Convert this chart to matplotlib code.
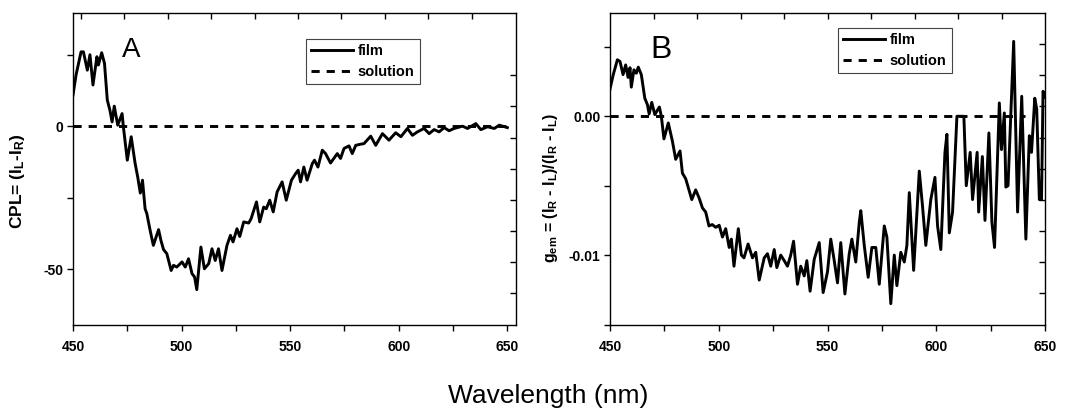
import numpy as np
import matplotlib
matplotlib.use('Agg')
import matplotlib.pyplot as plt

plt.rcParams['font.family'] = ['Liberation Sans', 'DejaVu Sans']
plt.rcParams['mathtext.default'] = 'regular'
plt.rcParams['axes.unicode_minus'] = False

# ---------------- data ----------------
wl_a = [450, 451.4, 453.7, 454.8, 456.6, 457.8, 459.2, 461, 461.7, 462.5, 463.2, 464.5, 465.8, 467,
        468, 469, 470.6, 472.6, 473.2, 475, 476.8, 478.6, 479.8, 481, 482, 483.2, 484, 485.5, 487,
        489.4, 490.5, 491.7, 493.2, 495.2, 496.3, 497.8, 500.2, 501.7, 503.2, 504.8, 506, 507,
        508.9, 510.5, 512.5, 514, 515.5, 517, 518.6, 520.9, 522.5, 523.7, 525.5, 526.8, 528.6,
        530.9, 532, 534.5, 536, 537.8, 539, 540.6, 542.2, 544, 546.3, 548.2, 550.6, 552.5, 553.7,
        554.8, 556.3, 557.8, 560.2, 561.2, 562.8, 564.8, 566.3, 568.6, 571.7, 573.2, 574.8, 577.1,
        578.6, 580.2, 582.5, 584, 587.1, 589.4, 592.5, 595.5, 598.6, 601, 604, 606.3, 608.6, 611.7,
        614, 616.3, 618.6, 620.9, 623.2, 625.5, 629.4, 631.7, 635.5, 637.8, 640.9, 644, 646.3, 650]
cpl_film = [10.9, 17.9, 26, 26, 19.6, 25, 14.4, 24.3, 21.4, 23.7, 25.7, 22, 9.1, 5.6, 1.5, 7, 0.35,
            4.4, -0.2, -11.9, -3.7, -13, -17.8, -23.4, -18.9, -28.9, -30.6, -36.4, -41.7, -36.2,
            -40, -43.2, -44.6, -50.5, -48.7, -49.3, -47.5, -49.3, -46.4, -51.6, -52.8, -57.2,
            -42.3, -49.9, -48.1, -42.9, -47, -42.9, -50.5, -41.7, -38.2, -40.5, -35.9, -38.6,
            -33.5, -33.9, -32.4, -26.5, -33.5, -28.3, -28.9, -25.9, -30, -23, -19.5, -25.9, -18.9,
            -16.6, -15.4, -19.5, -14.3, -18.9, -13.1, -11.9, -14.3, -8.4, -9.6, -12.9, -9.6, -11.3,
            -7.8, -6.9, -9.6, -6.7, -6.3, -6.1, -3.5, -6.7, -2.6, -4.9, -2.3, -3.7, -0.8, -3.2, -2,
            -0.8, -2.6, -1.2, -2, -0.5, -1.6, -0.8, 0, -0.8, 0.9, -1.2, -0.2, -0.8, 0.35, -0.5]

wl_b = [450, 451.5, 453.4, 454.6, 456, 457.2, 458.3, 459.2, 459.8, 461, 462.1, 463, 464.4, 466,
        467.2, 468, 469.2, 470.6, 472.7, 473.6, 474.8, 476.8, 478.7, 480.2, 482.2, 483.3, 484.8,
        486.3, 487.6, 489.4, 491, 492.5, 494, 495.5, 497, 498.6, 500.2, 501.7, 503.2, 504.8,
        505.8, 507, 509, 510.4, 511.6, 513.5, 515.5, 517, 518.6, 520.9, 522.4, 523.9, 525.5,
        526.7, 528.5, 530.1, 531.6, 533.1, 534.4, 536.2, 537.7, 539.3, 540.5, 542, 543.9, 546.2,
        548, 550, 551.5, 553, 554.6, 556.1, 558, 560, 561.2, 563, 564.6, 565.3, 566.9, 568.7,
        570.4, 572.2, 573.8, 576.1, 577.3, 579.1, 580.7, 581.9, 583.7, 585.3, 586.5, 587.6,
        589.6, 592.2, 593.7, 595.2, 597.5, 599.4, 600.6, 602.1, 604, 604.9, 606, 607.5, 609.5,
        612.7, 613.8, 615.6, 616.7, 618.8, 619.5, 621.2, 622.4, 624.2, 625.6, 626.8, 629, 630,
        631.3, 632, 633, 635.6, 637.4, 639.3, 641.2, 642.8, 643.8, 645.3, 646.2, 647.4, 648.4,
        649.1, 650]
gem_film = [1.96e-3, 3.0e-3, 4.07e-3, 3.95e-3, 3.0e-3, 3.7e-3, 2.8e-3, 3.5e-3, 2.1e-3, 3.35e-3,
            3.1e-3, 3.54e-3, 3.0e-3, 1.3e-3, 0.84e-3, 0.17e-3, 1.0e-3, 0.12e-3, 0.67e-3, 0.0,
            -1.63e-3, -0.48e-3, -1.8e-3, -3.1e-3, -2.5e-3, -4.1e-3, -4.5e-3, -5.3e-3, -6.0e-3,
            -5.3e-3, -5.9e-3, -6.6e-3, -6.9e-3, -7.9e-3, -7.8e-3, -8.0e-3, -7.85e-3, -8.7e-3,
            -8.1e-3, -9.45e-3, -8.85e-3, -10.8e-3, -8.1e-3, -10.0e-3, -10.2e-3, -9.2e-3, -10.2e-3,
            -9.8e-3, -11.8e-3, -10.2e-3, -9.9e-3, -10.8e-3, -9.6e-3, -10.9e-3, -10.0e-3, -10.4e-3,
            -10.8e-3, -10.0e-3, -9.0e-3, -12.1e-3, -10.8e-3, -11.5e-3, -10.4e-3, -12.6e-3,
            -10.3e-3, -9.1e-3, -12.7e-3, -11.2e-3, -8.85e-3, -10.3e-3, -12.0e-3, -9.1e-3,
            -12.8e-3, -9.9e-3, -8.85e-3, -10.5e-3, -7.65e-3, -6.8e-3, -9.3e-3, -11.6e-3,
            -9.45e-3, -9.45e-3, -12.1e-3, -7.9e-3, -8.7e-3, -13.5e-3, -10.0e-3, -12.2e-3,
            -9.8e-3, -10.5e-3, -9.3e-3, -5.5e-3, -11.1e-3, -3.95e-3, -6.5e-3, -9.3e-3, -6.0e-3,
            -4.4e-3, -7.9e-3, -9.6e-3, -2.6e-3, -1.3e-3, -8.4e-3, -6.9e-3, 0.0, 0.0, -5.0e-3,
            -2.6e-3, -6.0e-3, -2.6e-3, -6.9e-3, -2.9e-3, -7.5e-3, -1.2e-3, -7.65e-3, -9.45e-3,
            0.96e-3, -2.4e-3, 0.24e-3, -5.1e-3, -5.0e-3, 5.4e-3, -6.9e-3, 1.44e-3, -8.85e-3,
            -1.4e-3, -2.6e-3, 1.3e-3, 0.5e-3, -6.0e-3, -6.0e-3, 1.8e-3, 1.4e-3]

sol_wl_a = [450, 650]
sol_cpl = [0, 0]
sol_wl_b = [450, 641]
sol_gem = [0, 0]

x_ticks = [450, 475, 500, 525, 550, 575, 600, 625, 650]
x_ticklabels = ['450', '', '500', '', '550', '', '600', '', '650']
ya_ticks = [-50, -25, 0, 25]
ya_ticklabels = ['-50', '', '0', '']
yb_ticks = [-0.015, -0.01, -0.005, 0.0, 0.005]
yb_ticklabels = ['', '-0.01', '', '0.00', '']

# ---------------- figure ----------------
W, H = 1074, 408
fig = plt.figure(figsize=(W / 100, H / 100), dpi=100)


def px_axes(l, r, t, b):
    return fig.add_axes([l / W, 1 - b / H, (r - l) / W, (b - t) / H])


axA = px_axes(73, 516, 13, 324.5)
axB = px_axes(610, 1045, 13, 324.5)

lw_line = 2.1
dash = (0, (2.8, 2.4))

axA.plot(wl_a, cpl_film, color='black', lw=lw_line, label='film', solid_joinstyle='round')
axA.plot(sol_wl_a, sol_cpl, color='black', lw=lw_line, ls=dash, label='solution')
axB.plot(wl_b, gem_film, color='black', lw=lw_line, label='film', solid_joinstyle='round')
axB.plot(sol_wl_b, sol_gem, color='black', lw=lw_line, ls=dash, label='solution')


def style(ax, xlim, ylim, yt, ytl):
    ax.set_xlim(*xlim)
    ax.set_ylim(*ylim)
    ax.set_xticks(x_ticks)
    ax.set_xticklabels(x_ticklabels)
    ax.set_yticks(yt)
    ax.set_yticklabels(ytl)
    ax.tick_params(axis='x', direction='out', length=4, width=1, labelsize=10, pad=7)
    ax.tick_params(axis='y', direction='out', length=4, width=1, labelsize=10, pad=3)
    for lab in ax.get_xticklabels() + ax.get_yticklabels():
        lab.set_fontweight('bold')
    for sp in ax.spines.values():
        sp.set_linewidth(1.0)


style(axA, (450, 654), (-69.4, 39.6), ya_ticks, ya_ticklabels)
style(axB, (450, 650), (-0.01497, 0.00744), yb_ticks, yb_ticklabels)


def overlay(ax, top_fracs, right_fracs):
    ov = fig.add_axes(ax.get_position(), frameon=False)
    ov.patch.set_visible(False)
    ov.set_xlim(0, 1)
    ov.set_ylim(0, 1)
    ov.xaxis.tick_top()
    ov.yaxis.tick_right()
    ov.set_xticks(top_fracs)
    ov.set_yticks(right_fracs)
    ov.tick_params(direction='in', length=4, width=1, labeltop=False, labelright=False,
                   labelbottom=False, labelleft=False)


overlay(axA, [0.018 + 0.098 * k for k in range(10)], [0.1 * k for k in range(1, 9)])
overlay(axB, [0.1 * k for k in range(1, 10)], [0.1 * k for k in range(1, 10)])

axA.set_ylabel(r'CPL= (I$_L$-I$_R$)', fontsize=12.5, fontweight='bold')
axA.yaxis.set_label_coords(-0.104, 0.46)
axB.set_ylabel(r'g$_{em}$ = (I$_R$ - I$_L$)/(I$_R$ - I$_L$)', fontsize=11.5, fontweight='bold')
axB.yaxis.set_label_coords(-0.115, 0.44)

leg_kw = dict(loc='upper left', frameon=True, fancybox=False, edgecolor='#444444',
              framealpha=1, handlelength=2.9, handletextpad=0.3, labelspacing=0.45,
              borderpad=0.35, borderaxespad=0, prop={'weight': 'bold', 'size': 10.5})
legA = axA.legend(bbox_to_anchor=(0.526, 0.9165), **leg_kw)
legB = axB.legend(bbox_to_anchor=(0.524, 0.952), **leg_kw)
for lg in (legA, legB):
    lg.get_frame().set_linewidth(0.8)

fig.text(131 / W, 1 - 56.7 / H, 'A', ha='center', va='baseline', fontsize=20)
fig.text(661.5 / W, 1 - 58.3 / H, 'B', ha='center', va='baseline', fontsize=23)
fig.text(548 / W, 1 - 403 / H, 'Wavelength (nm)', ha='center', va='baseline', fontsize=19)

fig.savefig('out.png', dpi=100)
